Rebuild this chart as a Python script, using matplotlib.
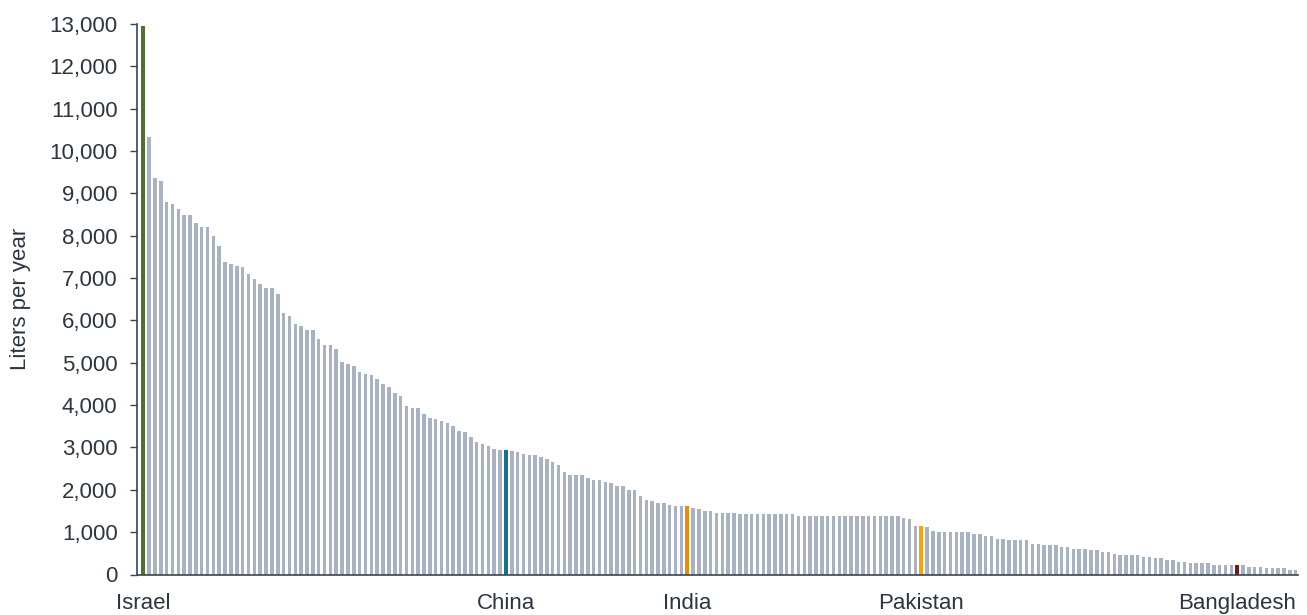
import matplotlib
matplotlib.use("Agg")
import matplotlib.pyplot as plt
from matplotlib.ticker import FuncFormatter

# Liters per year, one bar per country, sorted high to low
values = [
    12950, 10340, 9370, 9300, 8790, 8760, 8640, 8490, 8490, 8290,
    8215, 8215, 7985, 7755, 7370, 7330, 7290, 7250, 7095, 6985,
    6870, 6755, 6755, 6635, 6175, 6100, 5905, 5865, 5785, 5785,
    5555, 5410, 5410, 5335, 5010, 4970, 4930, 4780, 4745, 4705,
    4625, 4505, 4435, 4280, 4210, 3970, 3930, 3930, 3780, 3705,
    3665, 3625, 3585, 3505, 3395, 3355, 3240, 3120, 3080, 3040,
    2965, 2930, 2930, 2925, 2892, 2852, 2813, 2813, 2774, 2734,
    2663, 2577, 2427, 2348, 2348, 2348, 2269, 2230, 2230, 2191,
    2151, 2080, 2080, 2002, 2002, 1844, 1765, 1726, 1686, 1686,
    1647, 1608, 1608, 1608, 1576, 1537, 1497, 1497, 1458, 1458,
    1458, 1458, 1418, 1418, 1418, 1418, 1418, 1418, 1418, 1418,
    1418, 1418, 1379, 1379, 1379, 1379, 1379, 1379, 1379, 1379,
    1379, 1379, 1379, 1379, 1379, 1379, 1379, 1379, 1379, 1379,
    1340, 1300, 1150, 1150, 1111, 1032, 993, 993, 993, 993,
    993, 993, 953, 953, 914, 914, 843, 843, 804, 804,
    804, 804, 725, 725, 686, 686, 686, 646, 646, 607,
    607, 607, 567, 567, 528, 528, 490, 449, 449, 449,
    449, 418, 418, 378, 378, 339, 339, 299, 299, 260,
    260, 260, 260, 221, 221, 221, 221, 221, 221, 181,
    181, 181, 142, 142, 142, 142, 110, 110,
]

# labelled countries and their position in the sorted list
labels = ["Israel", "China", "India", "Pakistan", "Bangladesh"]
label_pos = [0, 62, 93, 133, 187]
label_colors = ["#4b7135", "#17708c", "#f08a05", "#f9a20a", "#7a1416"]

base_color = "#a8b2c3"
axis_color = "#3a4552"
text_color = "#2c3640"

plt.rcParams["font.family"] = ["Liberation Sans", "DejaVu Sans"]

fig = plt.figure(figsize=(13.07, 6.15), dpi=100)
ax = fig.add_axes([137 / 1307, (615 - 574.5) / 615, (1298 - 137) / 1307, (574.5 - 24) / 615])

x = list(range(len(values)))
colors = [base_color] * len(values)
widths = [0.6] * len(values)
for pos, c in zip(label_pos, label_colors):
    colors[pos] = c
    widths[pos] = 0.72

ax.bar(x, values, width=widths, color=colors, linewidth=0)

ax.set_xlim(-1.06, 197.4)
ax.set_ylim(0, 13000)
ax.set_yticks(range(0, 13001, 1000))
ax.yaxis.set_major_formatter(FuncFormatter(lambda v, p: f"{int(v):,}"))
ax.set_xticks(label_pos)
ax.set_xticklabels(labels)

ax.tick_params(axis="y", direction="out", length=5, width=1, color=axis_color,
               labelsize=16, labelcolor=text_color, pad=9)
ax.tick_params(axis="x", length=0, labelsize=16, labelcolor=text_color, pad=13)

for side in ["top", "right"]:
    ax.spines[side].set_visible(False)
for side in ["left", "bottom"]:
    ax.spines[side].set_color(axis_color)
    ax.spines[side].set_linewidth(1.2)

ax.set_ylabel("Liters per year", fontsize=16, color=text_color, labelpad=13)

fig.savefig("out.png", dpi=100)
